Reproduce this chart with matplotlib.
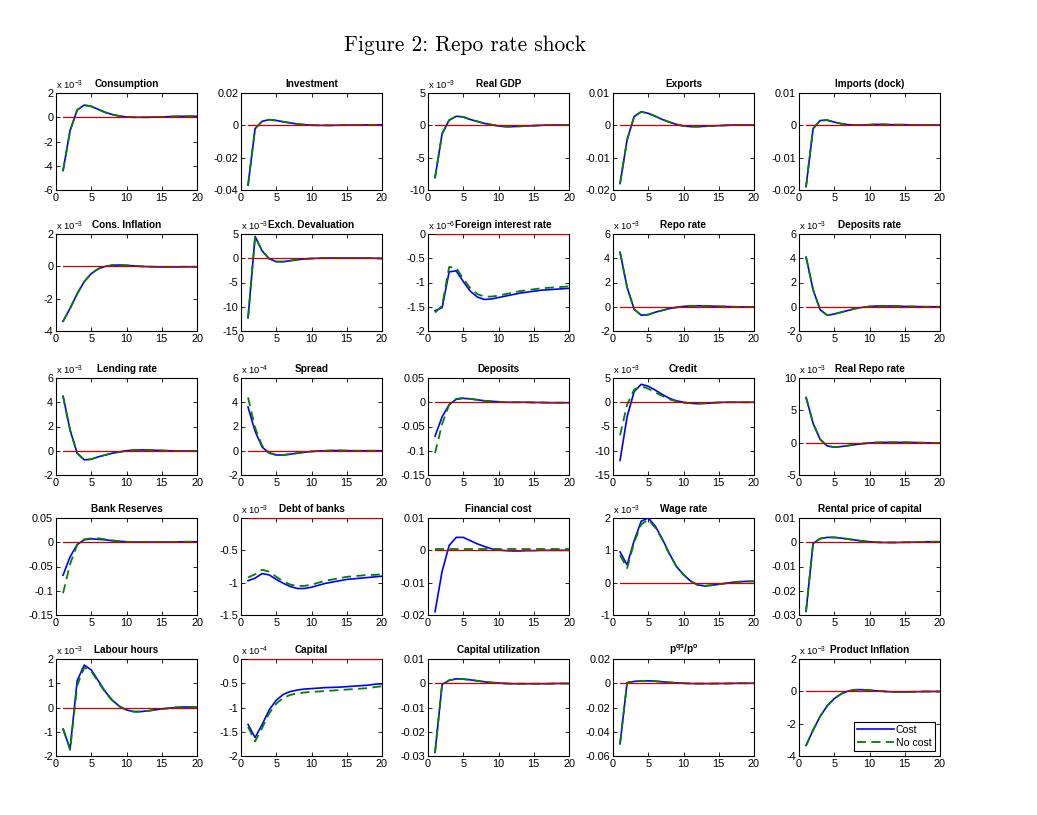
import matplotlib
matplotlib.use("Agg")
import matplotlib.pyplot as plt
from matplotlib.ticker import FixedLocator

plt.rcParams['font.family'] = ['Liberation Sans', 'DejaVu Sans']
plt.rcParams['mathtext.fontset'] = 'custom'
plt.rcParams['mathtext.rm'] = 'Liberation Sans'
plt.rcParams['mathtext.it'] = 'Liberation Sans'
plt.rcParams['mathtext.bf'] = 'Liberation Sans:bold'

periods = list(range(1, 21))

titles = ["Consumption", "Investment", "Real GDP", "Exports", "Imports (dock)",
          "Cons. Inflation", "Exch. Devaluation", "Foreign interest rate", "Repo rate", "Deposits rate",
          "Lending rate", "Spread", "Deposits", "Credit", "Real Repo rate",
          "Bank Reserves", "Debt of banks", "Financial cost", "Wage rate", "Rental price of capital",
          "Labour hours", "Capital", "Capital utilization", r"$\mathbf{p^{qs}/p^{o}}$", "Product Inflation"]

exponents = [-3, None, -3, None, None,
             -3, -3, -6, -3, -3,
             -3, -4, None, -3, -3,
             None, -3, None, -3, None,
             -3, -4, None, None, -3]

yticks = [[-6, -4, -2, 0, 2], [-0.04, -0.02, 0, 0.02], [-10, -5, 0, 5], [-0.02, -0.01, 0, 0.01], [-0.02, -0.01, 0, 0.01],
          [-4, -2, 0, 2], [-15, -10, -5, 0, 5], [-2, -1.5, -1, -0.5, 0], [-2, 0, 2, 4, 6], [-2, 0, 2, 4, 6],
          [-2, 0, 2, 4, 6], [-2, 0, 2, 4, 6], [-0.15, -0.1, -0.05, 0, 0.05], [-15, -10, -5, 0, 5], [-5, 0, 5, 10],
          [-0.15, -0.1, -0.05, 0, 0.05], [-1.5, -1, -0.5, 0], [-0.02, -0.01, 0, 0.01], [-1, 0, 1, 2], [-0.03, -0.02, -0.01, 0, 0.01],
          [-2, -1, 0, 1, 2], [-2, -1.5, -1, -0.5, 0], [-0.03, -0.02, -0.01, 0, 0.01], [-0.06, -0.04, -0.02, 0, 0.02], [-4, -2, 0, 2]]

ytick_labels = [["-6", "-4", "-2", "0", "2"], ["-0.04", "-0.02", "0", "0.02"], ["-10", "-5", "0", "5"], ["-0.02", "-0.01", "0", "0.01"], ["-0.02", "-0.01", "0", "0.01"],
                ["-4", "-2", "0", "2"], ["-15", "-10", "-5", "0", "5"], ["-2", "-1.5", "-1", "-0.5", "0"], ["-2", "0", "2", "4", "6"], ["-2", "0", "2", "4", "6"],
                ["-2", "0", "2", "4", "6"], ["-2", "0", "2", "4", "6"], ["-0.15", "-0.1", "-0.05", "0", "0.05"], ["-15", "-10", "-5", "0", "5"], ["-5", "0", "5", "10"],
                ["-0.15", "-0.1", "-0.05", "0", "0.05"], ["-1.5", "-1", "-0.5", "0"], ["-0.02", "-0.01", "0", "0.01"], ["-1", "0", "1", "2"], ["-0.03", "-0.02", "-0.01", "0", "0.01"],
                ["-2", "-1", "0", "1", "2"], ["-2", "-1.5", "-1", "-0.5", "0"], ["-0.03", "-0.02", "-0.01", "0", "0.01"], ["-0.06", "-0.04", "-0.02", "0", "0.02"], ["-4", "-2", "0", "2"]]

# Values in units of the panel multiplier (x 10^exponent where given)
cost = [
    [-4.4, -1.1, 0.6, 1.0, 0.9, 0.65, 0.4, 0.22, 0.1, 0.03, 0.0, 0.0, 0.0, 0.02, 0.03, 0.05, 0.07, 0.08, 0.08, 0.08],
    [-0.037, -0.002, 0.0025, 0.0035, 0.003, 0.0022, 0.0015, 0.0008, 0.0004, 0.0001, 0.0, 0.0, 0.0, 0.0001, 0.0001, 0.0002, 0.0002, 0.0003, 0.0003, 0.0003],
    [-8.1, -1.3, 0.8, 1.4, 1.3, 0.9, 0.6, 0.3, 0.1, -0.1, -0.2, -0.2, -0.15, -0.1, -0.05, 0.0, 0.05, 0.05, 0.05, 0.05],
    [-0.018, -0.0045, 0.0027, 0.0042, 0.0037, 0.0028, 0.0018, 0.001, 0.0003, -0.0002, -0.0004, -0.0004, -0.0003, -0.0002, -0.0001, 0.0, 0.0001, 0.0001, 0.0001, 0.0001],
    [-0.019, -0.001, 0.0015, 0.0016, 0.001, 0.0005, 0.0002, 0.0001, 0.0001, 0.0002, 0.0003, 0.0003, 0.0002, 0.0002, 0.0002, 0.0001, 0.0001, 0.0001, 0.0001, 0.0001],
    [-3.4, -2.6, -1.7, -0.95, -0.45, -0.15, 0.0, 0.07, 0.08, 0.06, 0.03, 0.0, -0.02, -0.03, -0.04, -0.04, -0.04, -0.03, -0.03, -0.03],
    [-12.3, 4.5, 1.5, -0.1, -0.7, -0.7, -0.5, -0.3, -0.15, -0.05, 0.0, 0.05, 0.05, 0.05, 0.05, 0.05, 0.05, 0.05, 0.0, -0.05],
    [-1.58, -1.52, -0.78, -0.76, -0.98, -1.18, -1.30, -1.35, -1.34, -1.31, -1.28, -1.25, -1.22, -1.20, -1.18, -1.16, -1.15, -1.14, -1.13, -1.12],
    [4.5, 1.6, -0.2, -0.7, -0.65, -0.45, -0.3, -0.15, -0.05, 0.03, 0.07, 0.08, 0.07, 0.05, 0.03, 0.02, 0.0, -0.01, -0.02, -0.02],
    [4.1, 1.4, -0.25, -0.7, -0.6, -0.45, -0.3, -0.15, -0.05, 0.02, 0.06, 0.07, 0.06, 0.05, 0.03, 0.02, 0.01, 0.0, 0.0, 0.0],
    [4.5, 1.7, -0.2, -0.75, -0.7, -0.5, -0.35, -0.2, -0.1, 0.0, 0.05, 0.07, 0.06, 0.04, 0.02, 0.0, -0.01, -0.02, -0.02, -0.02],
    [3.6, 1.6, 0.3, -0.2, -0.35, -0.35, -0.28, -0.2, -0.12, -0.06, -0.02, 0.0, 0.02, 0.02, 0.01, 0.0, 0.0, 0.0, 0.0, 0.0],
    [-0.07, -0.03, -0.005, 0.006, 0.008, 0.007, 0.005, 0.003, 0.002, 0.001, 0.0, 0.0, 0.0, 0.0, -0.0005, -0.0005, -0.001, -0.001, -0.001, -0.001],
    [-12.0, -3.0, 2.2, 3.7, 3.3, 2.5, 1.6, 0.8, 0.3, 0.0, -0.2, -0.3, -0.25, -0.15, -0.05, 0.0, 0.0, 0.0, 0.0, 0.0],
    [7.0, 3.0, 0.5, -0.5, -0.7, -0.6, -0.45, -0.3, -0.15, -0.05, 0.02, 0.05, 0.05, 0.05, 0.05, 0.03, 0.0, -0.02, -0.04, -0.05],
    [-0.068, -0.03, -0.005, 0.005, 0.007, 0.006, 0.005, 0.003, 0.002, 0.001, 0.0005, 0.0005, 0.0005, 0.0005, 0.0005, 0.0005, 0.0005, 0.001, 0.001, 0.001],
    [-0.97, -0.93, -0.86, -0.88, -0.95, -1.01, -1.06, -1.09, -1.09, -1.07, -1.04, -1.01, -0.99, -0.97, -0.95, -0.94, -0.93, -0.92, -0.91, -0.90],
    [-0.019, -0.0065, 0.0015, 0.004, 0.004, 0.003, 0.002, 0.0012, 0.0005, 0.0001, -0.0001, -0.0002, -0.0002, -0.0001, -0.0001, 0.0, 0.0, 0.0, 0.0, 0.0],
    [0.95, 0.55, 1.3, 1.9, 2.0, 1.75, 1.35, 0.9, 0.5, 0.25, 0.05, -0.07, -0.1, -0.08, -0.05, -0.02, 0.01, 0.03, 0.04, 0.04],
    [-0.0285, -0.0005, 0.0015, 0.002, 0.002, 0.0017, 0.0013, 0.0009, 0.0005, 0.0002, 0.0, -0.0001, -0.0001, -0.0001, 0.0, 0.0, 0.0001, 0.0002, 0.0002, 0.0002],
    [-0.9, -1.7, 1.1, 1.75, 1.55, 1.1, 0.65, 0.3, 0.05, -0.1, -0.17, -0.17, -0.14, -0.1, -0.06, -0.03, 0.0, 0.02, 0.02, 0.01],
    [-1.35, -1.62, -1.35, -1.05, -0.85, -0.73, -0.67, -0.64, -0.62, -0.61, -0.60, -0.59, -0.585, -0.58, -0.57, -0.56, -0.55, -0.54, -0.52, -0.51],
    [-0.0285, -0.0005, 0.0012, 0.0018, 0.0017, 0.0014, 0.001, 0.0006, 0.0003, 0.0001, -0.0001, -0.0002, -0.0002, -0.0002, -0.0002, -0.0002, -0.0002, -0.0001, -0.0001, -0.0001],
    [-0.05, 0.0005, 0.0015, 0.002, 0.002, 0.0017, 0.0012, 0.0007, 0.0003, 0.0, -0.0002, -0.0003, -0.0003, -0.0003, -0.0002, -0.0002, -0.0001, 0.0, 0.0, 0.0],
    [-3.35, -2.4, -1.55, -0.9, -0.45, -0.15, 0.02, 0.1, 0.1, 0.07, 0.03, 0.0, -0.03, -0.04, -0.04, -0.03, -0.02, -0.01, -0.01, -0.01],
]

no_cost = [
    cost[0], cost[1], cost[2], cost[3], cost[4],
    cost[5], cost[6],
    [-1.62, -1.48, -0.68, -0.70, -0.92, -1.12, -1.24, -1.29, -1.29, -1.27, -1.24, -1.21, -1.18, -1.16, -1.14, -1.12, -1.11, -1.10, -1.09, -1.08],
    cost[8], cost[9],
    cost[10],
    [4.4, 1.9, 0.4, -0.15, -0.35, -0.35, -0.28, -0.2, -0.12, -0.06, -0.02, 0.0, 0.02, 0.02, 0.01, 0.0, 0.0, 0.0, 0.0, 0.0],
    [-0.105, -0.045, -0.005, 0.007, 0.009, 0.007, 0.005, 0.003, 0.002, 0.001, 0.0, 0.0, 0.0, 0.0, -0.0005, -0.0005, -0.001, -0.001, -0.001, -0.001],
    [-6.8, -0.5, 2.6, 3.3, 2.8, 2.0, 1.3, 0.6, 0.2, -0.1, -0.2, -0.25, -0.2, -0.12, -0.05, 0.0, 0.0, 0.0, 0.0, 0.0],
    cost[14],
    [-0.105, -0.045, -0.005, 0.006, 0.008, 0.008, 0.006, 0.004, 0.002, 0.001, 0.0005, 0.0005, 0.0005, 0.0005, 0.0005, 0.0005, 0.0005, 0.001, 0.001, 0.001],
    [-0.92, -0.87, -0.80, -0.83, -0.91, -0.98, -1.03, -1.05, -1.05, -1.03, -1.00, -0.97, -0.95, -0.93, -0.91, -0.90, -0.89, -0.88, -0.88, -0.87],
    [0.0003] * 20,
    [0.85, 0.45, 1.25, 1.8, 1.95, 1.7, 1.33, 0.88, 0.5, 0.25, 0.05, -0.07, -0.1, -0.08, -0.05, -0.02, 0.01, 0.03, 0.04, 0.04],
    cost[19],
    [-0.85, -1.75, 0.9, 1.65, 1.5, 1.05, 0.62, 0.28, 0.04, -0.1, -0.17, -0.17, -0.14, -0.1, -0.06, -0.03, 0.0, 0.02, 0.02, 0.01],
    [-1.4, -1.7, -1.42, -1.12, -0.92, -0.80, -0.74, -0.71, -0.69, -0.68, -0.67, -0.66, -0.65, -0.64, -0.63, -0.62, -0.61, -0.60, -0.58, -0.56],
    cost[22], cost[23], cost[24],
]

W, H = 1037, 815
fig = plt.figure(figsize=(W / 100, H / 100), dpi=100)
fig.patch.set_facecolor('white')

lefts = [56, 241, 428, 613, 799]
tops = [93, 234, 378, 518, 659]
aw, ah = 141, 97

fig.text(465 / W, 1 - 45 / H, "Figure 2: Repo rate shock", family='cmr10',
         fontsize=15.4, ha='center', va='center')

blue = (0, 0, 1)
green = (0, 0.5, 0)
red = (0.8, 0, 0)

for i in range(25):
    r, c = divmod(i, 5)
    ax = fig.add_axes([lefts[c] / W, 1 - (tops[r] + ah) / H, aw / W, ah / H])
    l1, = ax.plot(periods, cost[i], color=blue, lw=1.2, label='Cost', zorder=3)
    l2, = ax.plot(periods, no_cost[i], color=green, lw=1.3, ls=(0, (5, 3)), label='No cost', zorder=3)
    ax.plot([periods[0], periods[-1]], [0, 0], color=red, lw=0.9, zorder=4)
    ax.set_xlim(0, 20)
    ax.set_ylim(yticks[i][0], yticks[i][-1])
    ax.xaxis.set_major_locator(FixedLocator([0, 5, 10, 15, 20]))
    ax.set_xticklabels(["0", "5", "10", "15", "20"])
    ax.yaxis.set_major_locator(FixedLocator(yticks[i]))
    ax.set_yticklabels(ytick_labels[i])
    ax.tick_params(direction='in', top=True, right=True, length=3, width=0.6,
                   labelsize=7.8, pad=2)
    for sp in ax.spines.values():
        sp.set_linewidth(0.8)
    t = ax.set_title(titles[i], fontsize=7.2, fontweight='bold', pad=4)
    if i == 7:
        t.set_x(0.535)
    if exponents[i] is not None:
        ax.text(0.0, 1.015, r"x 10$^{%d}$" % exponents[i], transform=ax.transAxes,
                fontsize=6.8, ha='left', va='bottom')
    if i == 24:
        leg = ax.legend(handles=[l1, l2], loc='lower right', fontsize=7.6,
                        fancybox=False, framealpha=1, edgecolor='black',
                        handlelength=3.5, borderpad=0.3, labelspacing=0.25,
                        handletextpad=0.2, borderaxespad=0.5)
        leg.get_frame().set_linewidth(0.8)

fig.savefig("out.png", dpi=100, facecolor='white')
